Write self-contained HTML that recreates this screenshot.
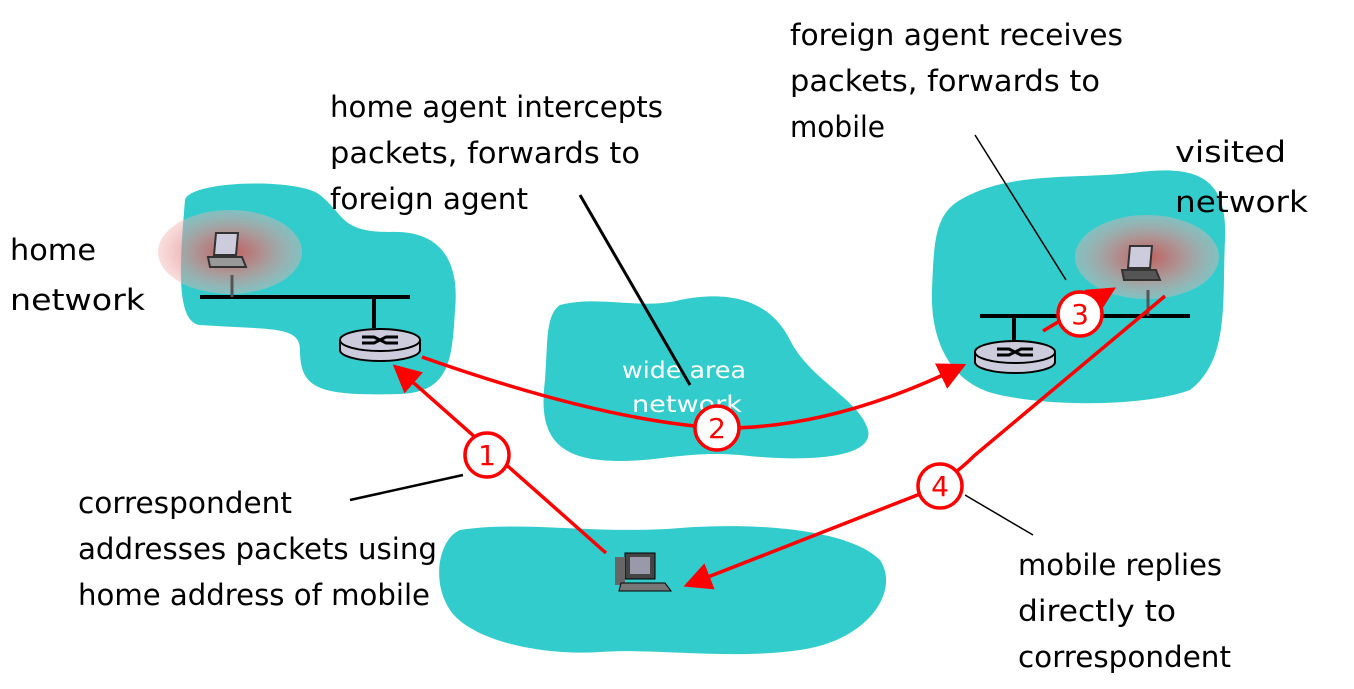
<!DOCTYPE html>
<html><head><style>
body{margin:0;background:#fff}
svg text{font-family:"DejaVu Sans","Liberation Sans",sans-serif;font-size:29px;fill:#000}
</style></head><body>
<svg width="1354" height="684" viewBox="0 0 1354 684" xmlns="http://www.w3.org/2000/svg">
<defs>
<radialGradient id="g" cx="50%" cy="50%" r="50%">
<stop offset="0" stop-color="#ff3030"/><stop offset="0.5" stop-color="#e08080"/><stop offset="1" stop-color="#f0b0b0" stop-opacity="0.6"/>
</radialGradient>
<marker id="a" markerWidth="8" markerHeight="8" refX="6" refY="4" orient="auto" markerUnits="strokeWidth"><path d="M0,0 L8,4 L0,8z" fill="#f00"/></marker>
</defs>
<path d="M185,200 C190,180 300,178 320,195 C345,215 340,232 390,232 C440,230 460,260 455,310 C452,360 450,392 400,394 C320,396 300,390 300,350 C300,325 270,330 200,325 C175,322 180,260 185,200Z" fill="#33cccc"/>
<path d="M560,305 C600,295 640,310 680,300 C730,290 770,300 790,340 C810,380 860,400 868,430 C875,460 800,462 740,455 C680,450 650,465 600,460 C545,455 540,420 545,380 C548,345 545,315 560,305Z" fill="#33cccc"/>
<path d="M960,200 C1010,170 1080,180 1140,172 C1200,165 1228,180 1225,240 C1222,300 1230,360 1190,390 C1150,405 1060,408 1000,395 C950,385 930,340 932,290 C934,240 935,215 960,200Z" fill="#33cccc"/>
<path d="M460,530 C520,520 600,535 680,528 C760,522 850,530 880,560 C900,590 870,640 800,650 C730,660 660,648 600,652 C540,656 470,640 450,610 C430,580 440,538 460,530Z" fill="#33cccc"/>
<ellipse cx="230" cy="252" rx="72" ry="42" fill="url(#g)" opacity="0.7"/>
<ellipse cx="1147" cy="257" rx="72" ry="42" fill="url(#g)" opacity="0.7"/>
<line x1="200" y1="297" x2="410" y2="297" stroke="#000" stroke-width="4"/>
<line x1="374" y1="297" x2="374" y2="328" stroke="#000" stroke-width="4"/>
<line x1="232" y1="275" x2="232" y2="297" stroke="#555" stroke-width="3"/>
<line x1="980" y1="316" x2="1190" y2="316" stroke="#000" stroke-width="4"/>
<line x1="1014" y1="316" x2="1014" y2="345" stroke="#000" stroke-width="4"/>
<line x1="1148" y1="290" x2="1148" y2="316" stroke="#555" stroke-width="3"/>
<g transform="translate(208,233)"><path d="M8,0 L30,0 L28,22 L6,22Z" fill="#ccd" stroke="#333" stroke-width="2"/><path d="M0,24 L34,24 L38,34 L2,34Z" fill="#999" stroke="#333" stroke-width="2"/></g>
<g transform="translate(1122,246)"><path d="M8,0 L30,0 L28,22 L6,22Z" fill="#ccd" stroke="#333" stroke-width="2"/><path d="M0,24 L34,24 L38,34 L2,34Z" fill="#555" stroke="#333" stroke-width="2"/></g>
<g transform="translate(380,340)"><path d="M-40,0 L-40,10 A40,11 0 0 0 40,10 L40,0" fill="#ccd" stroke="#000" stroke-width="2"/><ellipse rx="40" ry="11" fill="#ccd" stroke="#000" stroke-width="2"/><path d="M-18,-3 L-6,-3 L6,3 L18,3 M-18,3 L-6,3 L6,-3 L18,-3" stroke="#000" stroke-width="3" fill="none"/></g>
<g transform="translate(1015,352)"><path d="M-40,0 L-40,10 A40,11 0 0 0 40,10 L40,0" fill="#ccd" stroke="#000" stroke-width="2"/><ellipse rx="40" ry="11" fill="#ccd" stroke="#000" stroke-width="2"/><path d="M-18,-3 L-6,-3 L6,3 L18,3 M-18,3 L-6,3 L6,-3 L18,-3" stroke="#000" stroke-width="3" fill="none"/></g>
<g transform="translate(615,553)"><rect x="10" y="0" width="30" height="26" fill="#444" stroke="#000"/><rect x="15" y="4" width="20" height="17" fill="#99a"/><rect x="0" y="4" width="10" height="28" fill="#666"/><path d="M6,30 L50,30 L56,38 L4,38Z" fill="#777" stroke="#000"/></g>
<text x="622" y="378" textLength="124" lengthAdjust="spacingAndGlyphs" style="font-size:23px;fill:#fff">wide area</text>
<text x="632" y="412" textLength="110" lengthAdjust="spacingAndGlyphs" style="font-size:23px;fill:#fff">network</text>
<line x1="580" y1="195" x2="690" y2="385" stroke="#000" stroke-width="3"/>
<line x1="975" y1="135" x2="1066" y2="280" stroke="#000" stroke-width="1.5"/>
<line x1="350" y1="500" x2="463" y2="475" stroke="#000" stroke-width="2.5"/>
<line x1="965" y1="495" x2="1033" y2="535" stroke="#000" stroke-width="1.5"/>
<g stroke="#f00" stroke-width="3.5" fill="none">
<line x1="606" y1="553" x2="398" y2="369" marker-end="url(#a)"/>
<path d="M422,357 Q600,420 717,428 Q830,430 960,367" marker-end="url(#a)"/>
<line x1="1043" y1="331" x2="1110" y2="291" marker-end="url(#a)"/>
<path d="M1165,296 L975,455 Q950,480 920,494 L690,584" marker-end="url(#a)"/>
</g>
<g stroke="#f00" stroke-width="3.5" fill="#fff">
<circle cx="487" cy="455" r="22"/><circle cx="717" cy="428" r="22"/><circle cx="1080" cy="314" r="22"/><circle cx="940" cy="486" r="22"/>
</g>
<g text-anchor="middle">
<text x="487" y="465" style="fill:#f00;font-size:28px">1</text>
<text x="717" y="438" style="fill:#f00;font-size:28px">2</text>
<text x="1080" y="324" style="fill:#f00;font-size:28px">3</text>
<text x="940" y="496" style="fill:#f00;font-size:28px">4</text>
</g>
<g lengthAdjust="spacingAndGlyphs">
<text x="330" y="117" textLength="333" lengthAdjust="spacingAndGlyphs">home agent intercepts</text>
<text x="330" y="163" textLength="310" lengthAdjust="spacingAndGlyphs">packets, forwards to</text>
<text x="330" y="209" textLength="198" lengthAdjust="spacingAndGlyphs">foreign agent</text>
<text x="790" y="45" textLength="333" lengthAdjust="spacingAndGlyphs">foreign agent receives</text>
<text x="790" y="91" textLength="310" lengthAdjust="spacingAndGlyphs">packets, forwards to</text>
<text x="790" y="137" textLength="95" lengthAdjust="spacingAndGlyphs">mobile</text>
<text x="1175" y="162" textLength="111" lengthAdjust="spacingAndGlyphs">visited</text>
<text x="1175" y="212" textLength="133" lengthAdjust="spacingAndGlyphs">network</text>
<text x="10" y="260" textLength="86" lengthAdjust="spacingAndGlyphs">home</text>
<text x="10" y="310" textLength="135" lengthAdjust="spacingAndGlyphs">network</text>
<text x="78" y="513" textLength="214" lengthAdjust="spacingAndGlyphs">correspondent</text>
<text x="78" y="559" textLength="359" lengthAdjust="spacingAndGlyphs">addresses packets using</text>
<text x="78" y="605" textLength="352" lengthAdjust="spacingAndGlyphs">home address of mobile</text>
<text x="1018" y="575" textLength="204" lengthAdjust="spacingAndGlyphs">mobile replies</text>
<text x="1018" y="621" textLength="158" lengthAdjust="spacingAndGlyphs">directly to</text>
<text x="1018" y="667" textLength="213" lengthAdjust="spacingAndGlyphs">correspondent</text>
</g>
</svg>
</body></html>
